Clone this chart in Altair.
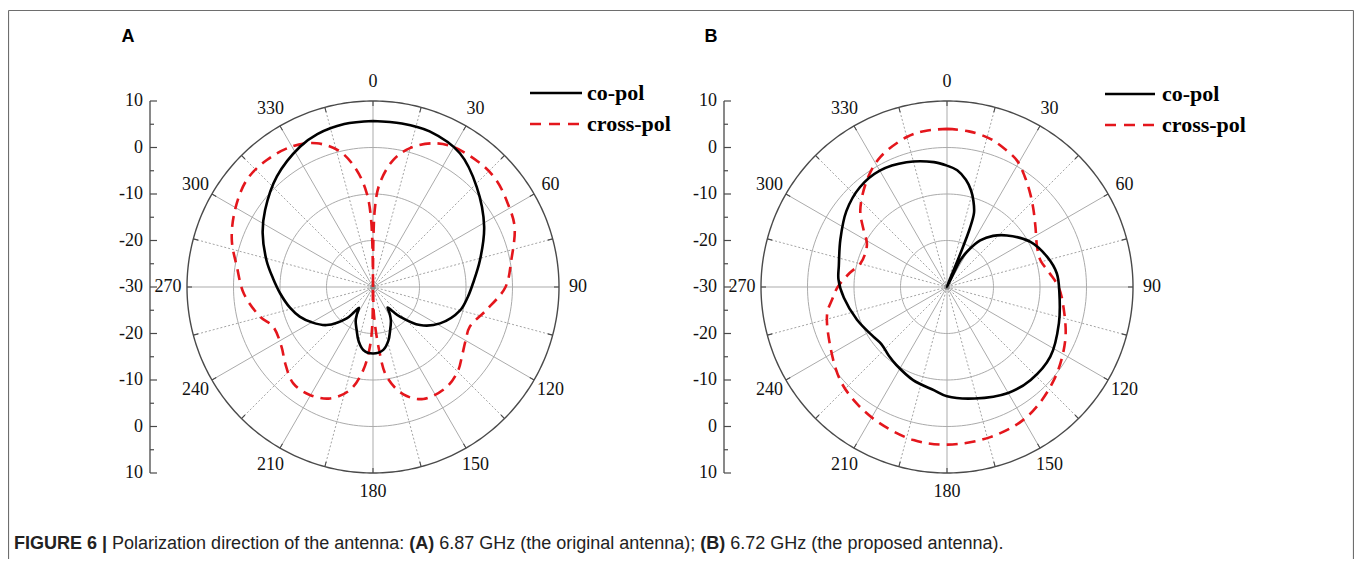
import altair as alt
import pandas as pd

# ---------------- data ----------------
# Panel A (6.87 GHz) co-pol
A_CO_ANG = [0, 10, 20, 33, 46, 61.5, 76, 88, 96, 105,
            118.5, 129, 137.7, 141, 144.5, 148, 152, 158.4, 164, 170.7,
            180, 188.8, 195, 200.8, 207, 210.5, 214, 217, 220, 230.6,
            240, 248, 256, 266, 275, 284, 296, 305.5, 319, 332.5,
            340, 350, 360]
A_CO_DB = [5.7, 5.7, 5.6, 4.3, 1.0, -2.8, -6.3, -8.5, -9.5, -10.6,
           -13.6, -17.0, -21.4, -23.2, -24.6, -23.2, -21.8, -20.0, -18.0, -16.3,
           -15.7, -16.3, -18.0, -20.1, -21.8, -23.2, -24.6, -23.2, -21.2, -17.1,
           -14.8, -13.0, -11.6, -10.0, -8.4, -6.4, -3.6, -1.5, 1.5, 4.0,
           5.0, 5.6, 5.7]
# Panel A cross-pol
A_CR_ANG = [0, 1.3, 3.7, 9.1, 14.9, 22.7, 29.7, 40.9, 49, 58.2,
            66.9, 79, 90, 101.4, 112.3, 120, 128.2, 134.2, 143.5, 155.8,
            164.2, 171.3, 174.5, 178, 180, 181, 183, 186.7, 192.6, 201.1,
            210.3, 219.6, 229.1, 236.8, 248.3, 255.3, 267, 278.5, 288.4, 299.2,
            310.3, 320.1, 329.9, 338.6, 346.3, 352, 356.2, 358.5, 360]
A_CR_DB = [-30, -13.4, -7.7, -2.3, 0.9, 3.5, 4.7, 5.2, 5.1, 4.1,
           3.1, 0.3, -1.5, -5.1, -7.5, -7.0, -5.7, -4.4, -3.3, -3.6,
           -6.0, -10.5, -16.5, -24.0, -30, -22.0, -17.1, -12.0, -7.3, -4.3,
           -3.1, -3.1, -5.0, -6.5, -6.9, -4.9, -2.2, -0.4, 2.0, 4.0,
           5.6, 5.6, 4.9, 3.2, 0.0, -4.6, -9.8, -16.0, -30]
# Panel B (6.72 GHz) co-pol
B_CO_ANG = [0, 5, 10, 14, 17, 20, 21.3, 21.8, 22.5, 26.5,
            30, 35.5, 42, 49.3, 61.6, 73.3, 83, 93, 108, 124,
            138, 150, 166, 180, 187, 200, 213, 220, 229, 236,
            250, 264, 274, 281, 294, 307, 319, 330, 342, 354,
            360]
B_CO_DB = [-3.9, -4.8, -6.6, -8.6, -10.6, -13.0, -16.5, -22.3, -30, -23.6,
           -21.0, -17.7, -15.2, -13.0, -9.6, -7.5, -6.2, -5.8, -4.7, -3.2,
           -3.1, -3.7, -5.3, -6.5, -7.6, -8.7, -10.0, -10.6, -11.3, -10.9,
           -9.4, -7.7, -6.6, -6.3, -4.9, -2.9, -1.5, -1.1, -1.8, -3.0,
           -3.9]
# Panel B cross-pol
B_CR_ANG = [0, 8, 16.3, 22, 28.9, 35, 41.7, 48, 55.8, 66,
            74, 82, 90, 99.7, 114.3, 131.2, 148.4, 163.9, 180, 192.3,
            206, 217.7, 228.8, 242.8, 257.5, 264, 270, 278, 285.1, 292,
            298.5, 305, 311.5, 323.1, 332.8, 345, 352, 360]
B_CR_DB = [4.0, 3.8, 3.2, 2.3, 1.1, -0.9, -3.1, -5.0, -7.0, -8.8,
           -9.1, -7.8, -6.0, -4.6, -2.1, 0.5, 2.8, 3.6, 3.9, 3.7,
           2.7, 1.7, 0.5, -1.8, -3.6, -5.2, -6.5, -8.8, -10.7, -11.0,
           -10.4, -8.0, -5.1, -1.3, 1.4, 3.4, 3.9, 4.0]

RING_LEVELS = [-20, -10, 0]
OUTER_LEVEL = 10
ANGLE_LABELS = [0, 30, 60, 90, 120, 150, 180, 210, 240, 270, 300, 330]
SPOKES_MAJOR = [0, 30, 60, 90, 120, 150, 180, 210, 240, 270, 300, 330]
SPOKES_MINOR = [15, 45, 75, 105, 135, 165, 195, 225, 255, 285, 315, 345]
AXIS_LABELS = ["10", "0", "-10", "-20", "-30", "-20", "-10", "0", "10"]
AXIS_OFFSETS = [40, 30, 20, 10, 0, -10, -20, -30, -40]       # dB from centre, signed
AXIS_MINOR = [35, 25, 15, 5, -5, -15, -25, -35]
SERIES = ["co-pol", "cross-pol"]
CAPTION = [("FIGURE 6 |", True), ("Polarization direction of the antenna:", False),
           ("(A)", True), ("6.87 GHz (the original antenna);", False),
           ("(B)", True), ("6.72 GHz (the proposed antenna).", False)]

# ---------------- layout ----------------
PAGE = 8
W, H = 1346, 551
R = 186.0
LABEL_R = 205.0
RIM_TICK = 5.0
SERIF = "Liberation Serif"
SANS = "Liberation Sans"
RED = "#e4161c"
GRID = "#ababab"
DARK = "#4a4a4a"

XS = alt.Scale(domain=[PAGE, PAGE + W], nice=False, zero=False)
YS = alt.Scale(domain=[PAGE, PAGE + H], nice=False, zero=False, reverse=True)


def X(f="x"):
    return alt.X(f"{f}:Q", scale=XS, axis=None)


def Y(f="y"):
    return alt.Y(f"{f}:Q", scale=YS, axis=None)


def polar(ch, cx, cy, rexpr, xn="x", yn="y", rn="rr"):
    return (ch.transform_calculate(**{rn: rexpr})
              .transform_calculate(**{xn: f"{cx}+datum.{rn}*sin(datum.ang*PI/180)"})
              .transform_calculate(**{yn: f"{cy}-datum.{rn}*cos(datum.ang*PI/180)"}))


RDB = f"{R}*(max(datum.db,-30)+30)/40"


def panel(p):
    cx, cy = p["cx"], p["cy"]
    layers = []
    # rings
    ring = pd.DataFrame([{"lvl": lv, "ang": a, "db": lv}
                         for lv in RING_LEVELS for a in range(0, 361, 2)])
    layers.append(polar(alt.Chart(ring), cx, cy, RDB).mark_line(
        color=GRID, strokeWidth=1).encode(
        x=X(), y=Y(), detail="lvl:N", order="ang:Q"))
    # spokes
    for angs, kw in [(SPOKES_MINOR, dict(strokeDash=[2, 2], strokeWidth=0.9, color="#9a9a9a")),
                     (SPOKES_MAJOR, dict(strokeWidth=1, color=GRID))]:
        sp = pd.DataFrame({"ang": angs, "db": OUTER_LEVEL})
        ch = polar(alt.Chart(sp), cx, cy, RDB, "x2", "y2").transform_calculate(
            x=str(cx)).transform_calculate(y=str(cy))
        layers.append(ch.mark_rule(**kw).encode(x=X(), y=Y(), x2="x2:Q", y2="y2:Q"))
    # small dark ticks where spokes meet the rim
    tk = pd.DataFrame({"ang": SPOKES_MAJOR + SPOKES_MINOR, "db": OUTER_LEVEL})
    tkc = polar(polar(alt.Chart(tk), cx, cy, RDB, "x2", "y2", "r2"),
                cx, cy, f"datum.r2-{RIM_TICK}", "x", "y", "r1")
    layers.append(tkc.mark_rule(color=DARK, strokeWidth=1.1).encode(
        x=X(), y=Y(), x2="x2:Q", y2="y2:Q"))
    # outer rim
    rim = pd.DataFrame([{"ang": a, "db": OUTER_LEVEL} for a in range(0, 361, 1)])
    layers.append(polar(alt.Chart(rim), cx, cy, RDB).mark_line(
        color=DARK, strokeWidth=1.4).encode(x=X(), y=Y(), order="ang:Q"))
    # centre dot
    layers.append(alt.Chart(pd.DataFrame({"x": [cx], "y": [cy]})).mark_point(
        filled=True, color="#8a8a8a", size=30, opacity=1).encode(x=X(), y=Y()))
    # angle labels
    al = pd.DataFrame({"ang": ANGLE_LABELS, "txt": [str(a) for a in ANGLE_LABELS]})
    layers.append(polar(alt.Chart(al), cx, cy, str(LABEL_R)).mark_text(
        font=SERIF, fontSize=18, color="#111", align="center", baseline="middle").encode(
        x=X(), y=Y(), text="txt:N"))
    # radial axis
    ax = pd.DataFrame({"off": AXIS_OFFSETS, "lab": AXIS_LABELS})
    axc = alt.Chart(ax).transform_calculate(y=f"{cy}-{R}*datum.off/40")
    ax_x = p["axis_x"]
    layers.append(alt.Chart(pd.DataFrame({"o1": [max(AXIS_OFFSETS)], "o2": [min(AXIS_OFFSETS)]}))
                  .transform_calculate(y=f"{cy}-{R}*datum.o1/40", y2=f"{cy}-{R}*datum.o2/40",
                                       x=str(ax_x))
                  .mark_rule(color=DARK, strokeWidth=1.3)
                  .encode(x=X(), y=Y(), y2="y2:Q"))
    layers.append(axc.transform_calculate(x=str(ax_x), x2=str(ax_x + 7)).mark_rule(
        color=DARK, strokeWidth=1.2).encode(x=X(), x2="x2:Q", y=Y()))
    mn = pd.DataFrame({"off": AXIS_MINOR})
    layers.append(alt.Chart(mn).transform_calculate(
        y=f"{cy}-{R}*datum.off/40", x=str(ax_x), x2=str(ax_x + 4)).mark_rule(
        color=DARK, strokeWidth=1.2).encode(x=X(), x2="x2:Q", y=Y()))
    layers.append(axc.transform_calculate(x=str(ax_x - 7)).mark_text(
        font=SERIF, fontSize=18, color="#111", align="right", baseline="middle").encode(
        x=X(), y=Y(), text="lab:N"))
    # curves
    for (ang, db), kw in [(p["cr"], dict(color=RED, strokeWidth=2.6, strokeDash=[11, 7])),
                          (p["co"], dict(color="#000000", strokeWidth=2.6))]:
        df = pd.DataFrame({"i": range(len(ang)), "ang": ang, "db": db})
        layers.append(polar(alt.Chart(df), cx, cy, RDB).mark_line(
            strokeJoin="round", interpolate="catmull-rom", **kw).encode(
            x=X(), y=Y(), order="i:Q"))
    # legend
    ly = p["leg_y"]
    for s, yy, kw in [(SERIES[0], ly[0], dict(color="#000", strokeWidth=2.6)),
                      (SERIES[1], ly[1], dict(color=RED, strokeWidth=2.6, strokeDash=[11, 8]))]:
        d = pd.DataFrame({"x": [p["leg_x0"]], "x2": [p["leg_x1"]], "y": [yy],
                          "tx": [p["leg_tx"]], "s": [s]})
        layers.append(alt.Chart(d).mark_rule(**kw).encode(x=X(), x2="x2:Q", y=Y()))
        layers.append(alt.Chart(d).mark_text(font=SERIF, fontSize=22, fontWeight="bold",
                                             align="left", baseline="middle", color="#000")
                      .encode(x=X("tx"), y=Y(), text="s:N"))
    # panel letter
    layers.append(alt.Chart(pd.DataFrame({"x": [p["label_x"]], "y": [37], "t": [p["name"]]}))
                  .mark_text(font=SANS, fontSize=18, fontWeight="bold", align="center",
                             baseline="middle", color="#000")
                  .encode(x=X(), y=Y(), text="t:N"))
    return layers


PANELS = [
    dict(name="A", cx=373, cy=287, axis_x=150, label_x=128, leg_x0=530, leg_x1=582,
         leg_tx=587, leg_y=(93, 124), co=(A_CO_ANG, A_CO_DB), cr=(A_CR_ANG, A_CR_DB)),
    dict(name="B", cx=947, cy=287, axis_x=724, label_x=711, leg_x0=1105, leg_x1=1155,
         leg_tx=1162, leg_y=(94, 125), co=(B_CO_ANG, B_CO_DB), cr=(B_CR_ANG, B_CR_DB)),
]

layers = []
# frame
fr = pd.DataFrame({"x": [8.5, 8.5, 1353.5], "x2": [1353.5, 8.5, 1353.5],
                   "y": [10.5, 10.5, 10.5], "y2": [10.5, 567, 567]})
layers.append(alt.Chart(fr).mark_rule(color="#6e6e6e", strokeWidth=1.2).encode(
    x=X(), x2="x2:Q", y=Y(), y2="y2:Q"))
for p in PANELS:
    layers += panel(p)

# caption (Arial/Helvetica metrics for positioning segments)
REG = {' ': 278, '(': 333, ')': 333, '|': 260, '.': 278, ':': 278, ';': 278,
       'A': 667, 'B': 667, 'F': 611, 'G': 778, 'H': 722, 'I': 278, 'R': 722, 'U': 722,
       'E': 667, 'Z': 611, 'P': 667,
       'a': 556, 'b': 556, 'c': 500, 'd': 556, 'e': 556, 'f': 278, 'g': 556, 'h': 556,
       'i': 222, 'j': 222, 'k': 500, 'l': 222, 'm': 833, 'n': 556, 'o': 556, 'p': 556,
       'q': 556, 'r': 333, 's': 500, 't': 278, 'u': 556, 'v': 500, 'w': 722, 'x': 500,
       'y': 500, 'z': 500}
BOLD = {' ': 278, '(': 333, ')': 333, '|': 280, 'A': 722, 'B': 722, 'F': 611, 'G': 778,
        'I': 278, 'R': 722, 'U': 722, 'E': 667}
CAP_FS = 18
cx_ = 14.0
rows = []
for txt, bold in CAPTION:
    tbl = BOLD if bold else REG
    rows.append({"x": cx_, "y": 544, "t": txt, "w": "bold" if bold else "normal"})
    cx_ += (sum(tbl.get(c, 556) for c in txt) + 278) / 1000 * CAP_FS
cap = pd.DataFrame(rows)
for wt in ["bold", "normal"]:
    layers.append(alt.Chart(cap[cap.w == wt]).mark_text(
        font=SANS, fontSize=CAP_FS, fontWeight=wt, align="left", baseline="middle",
        color="#222").encode(x=X(), y=Y(), text="t:N"))

chart = alt.layer(*layers).properties(
    width=W, height=H, padding=0, autosize=alt.AutoSizeParams(type="none")
).configure_view(stroke=None)

chart.save("out.html", embed_options={"renderer": "svg", "actions": False})
